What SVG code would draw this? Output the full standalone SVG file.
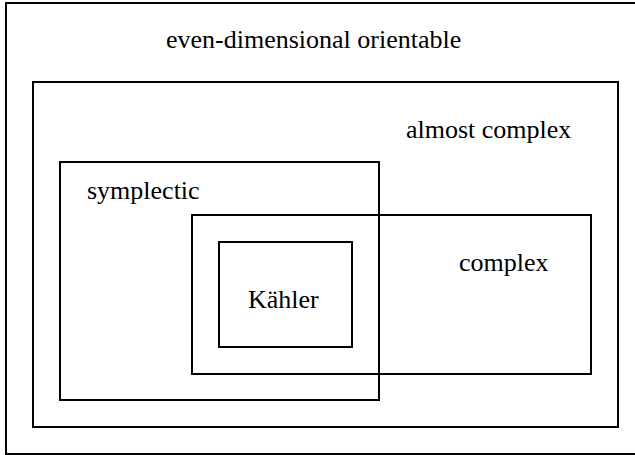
<svg xmlns="http://www.w3.org/2000/svg" width="635" height="455" viewBox="0 0 635 455">
<style>
rect{fill:none;stroke:#000;stroke-width:2}
.t{font-family:'Liberation Serif','Times New Roman',serif;font-size:26px;fill:#000}
</style>
<rect x="0" y="0" width="635" height="455" style="fill:#fff;stroke:none"/>
<g id="even-dimensional-orientable">
<rect x="6" y="3" width="640" height="451"/>
<text class="t" x="166" y="48">even-dimensional orientable</text>
</g>
<g id="almost-complex">
<rect x="33" y="82" width="585" height="345"/>
<text class="t" x="406" y="138">almost complex</text>
</g>
<g id="symplectic">
<rect x="60" y="162" width="319" height="238"/>
<text class="t" x="87" y="199">symplectic</text>
</g>
<g id="complex">
<rect x="192" y="215" width="399" height="159"/>
<text class="t" x="459" y="271">complex</text>
</g>
<g id="kahler">
<rect x="219" y="242" width="133" height="105"/>
<text class="t" x="248" y="308">Kähler</text>
</g>
<g id="connectors"/>
</svg>
